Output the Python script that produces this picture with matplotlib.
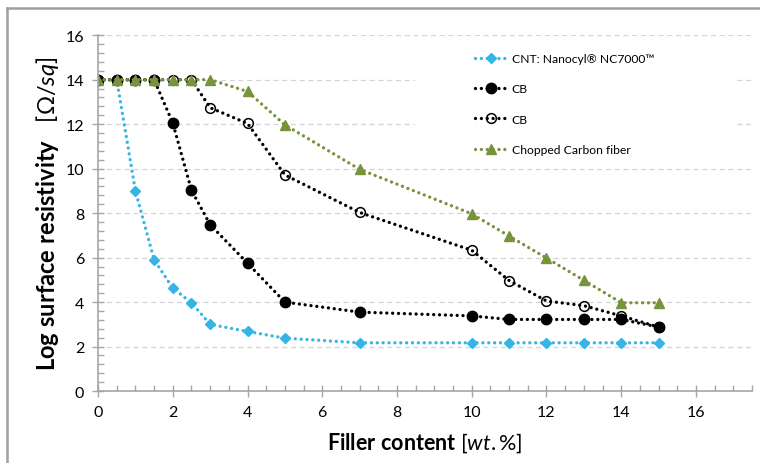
import numpy as np
import matplotlib
matplotlib.use('Agg')
import matplotlib.pyplot as plt
from matplotlib.patches import Rectangle
from matplotlib.lines import Line2D
from matplotlib.ticker import MultipleLocator

plt.rcParams['font.family'] = ['Lato', 'DejaVu Sans']
plt.rcParams['mathtext.fontset'] = 'custom'
plt.rcParams['mathtext.rm'] = 'Lato'
plt.rcParams['mathtext.it'] = 'Lato:italic'
plt.rcParams['mathtext.bf'] = 'Lato:bold'

# daten
filler = [0, 0.5, 1, 1.5, 2, 2.5, 3, 4, 5, 7, 10, 11, 12, 13, 14, 15]
cnt = [14, 14, 9.0, 5.9, 4.63, 3.97, 3.0, 2.68, 2.38, 2.17, 2.17, 2.17, 2.17, 2.17, 2.17, 2.17]
cb_filled = [14, 14, 14, 14, 12.05, 9.03, 7.48, 5.75, 4.0, 3.55, 3.38, 3.22, 3.22, 3.22, 3.22, 2.88]
cb_open = [14, 14, 14, 14, 14, 14, 12.74, 12.03, 9.72, 8.03, 6.33, 4.97, 4.05, 3.84, 3.38, 2.88]
fiber = [14, 14, 14, 14, 14, 14, 14, 13.47, 11.97, 9.97, 7.97, 6.97, 5.98, 4.98, 3.97, 3.97]

labels = ['CNT: Nanocyl® NC7000™', 'CB', 'CB', 'Chopped Carbon fiber']

blue = '#35b4e6'
green = '#77933c'
dots = (0, (0.01, 1.75))

fig = plt.figure(figsize=(7.6, 4.64), dpi=100)
ax = fig.add_axes([0.129, 0.155, 0.8605, 0.767])

kw = dict(linestyle=dots, linewidth=2.4, dash_capstyle='round')
ax.plot(filler, cnt, color=blue, marker='D', markersize=5.5, label=labels[0], **kw)
ax.plot(filler, cb_filled, color='black', marker='o', markersize=7.5, label=labels[1], **kw)
ax.plot(filler, cb_open, color='black', marker='o', markersize=7, mfc='none', mew=1.1, label=labels[2], **kw)
ax.plot(filler, fiber, color=green, marker='^', markersize=7, label=labels[3], **kw)

ax.set_xlim(0, 17.5)
ax.set_ylim(0, 16)
ax.xaxis.set_major_locator(MultipleLocator(2))
ax.xaxis.set_minor_locator(MultipleLocator(0.5))
ax.yaxis.set_major_locator(MultipleLocator(2))
ax.yaxis.set_minor_locator(MultipleLocator(0.4))
ax.tick_params(which='major', direction='inout', length=8, width=1, color='#a6a6a6', labelsize=11.5, pad=6)
ax.tick_params(which='minor', direction='in', length=4, width=1, color='#a6a6a6')
for s in ['top', 'right']:
    ax.spines[s].set_visible(False)
for s in ['left', 'bottom']:
    ax.spines[s].set_color('#a6a6a6')
    ax.spines[s].set_linewidth(1.2)

ax.yaxis.grid(True, which='major', color='#d4d4d4', linestyle=(0, (4, 3)), linewidth=0.9)
ax.set_axisbelow(True)

# weisser Hintergrund hinter der Legende
ax.add_patch(Rectangle((0.485, 0.652), 0.486, 0.331, transform=ax.transAxes,
                       facecolor='white', edgecolor='none', zorder=1.5))

ax.legend(loc='upper left', bbox_to_anchor=(0.567, 0.967), frameon=False, fontsize=8.7,
          labelspacing=1.6, handlelength=2.7, handletextpad=0.35, borderpad=0)

ax.set_xlabel(r'$\mathbf{Filler\ content}$ [$\mathit{wt.\%}$]', fontsize=15.5, labelpad=8)
ax.set_ylabel(r'$\mathbf{Log\ surface\ resistivity}$$\ \ \ $[$\mathit{\Omega/sq}$]', fontsize=17, labelpad=3)

# Rahmen um die Grafik
fig.add_artist(Line2D([7 / 760, 7 / 760], [0, 1 - 9 / 464], transform=fig.transFigure, color='#a0a0a0', linewidth=1.8))
fig.add_artist(Line2D([7 / 760, 1], [1 - 9 / 464, 1 - 9 / 464], transform=fig.transFigure, color='#a0a0a0', linewidth=1.8))

plt.savefig('out.png', dpi=100)
